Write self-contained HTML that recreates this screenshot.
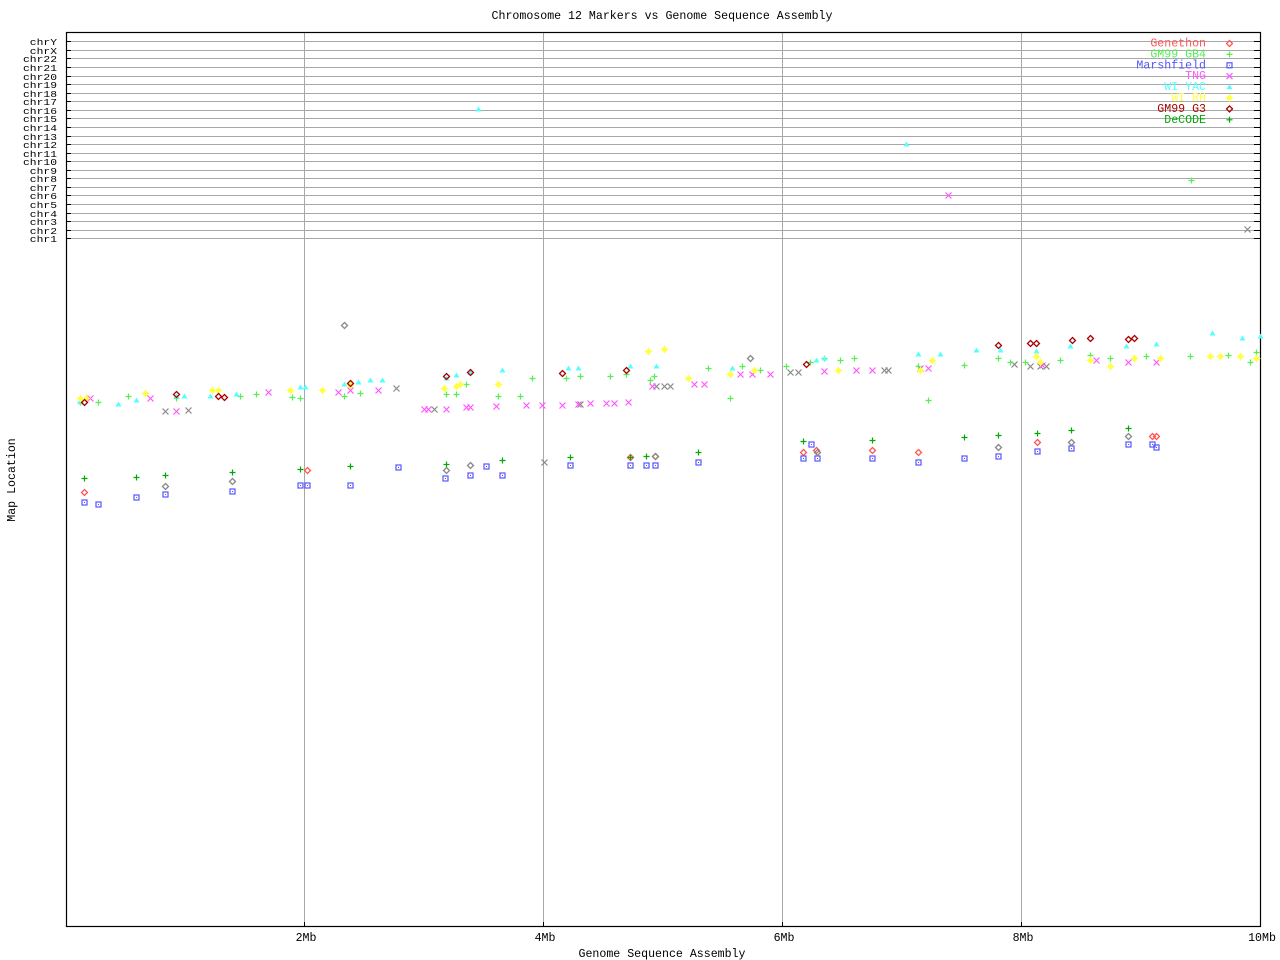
<!DOCTYPE html>
<html><head><meta charset="utf-8"><style>
html,body{margin:0;padding:0;background:#fff;}
svg{display:block;}
text{font-family:"Liberation Mono","DejaVu Sans Mono",monospace;font-size:11.6px;}
text.c{font-size:9.6px;}
</style></head><body>
<svg id="s" width="1280" height="960" xmlns="http://www.w3.org/2000/svg">
<rect width="1280" height="960" fill="#fff"/>
<text x="662" y="19" text-anchor="middle">Chromosome 12 Markers vs Genome Sequence Assembly</text>
<text x="662" y="957" text-anchor="middle">Genome Sequence Assembly</text>
<text x="0" y="0" text-anchor="middle" transform="translate(15,480) rotate(-90)">Map Location</text>
<g id="g"></g>
</svg>
<script>
var NS="http://www.w3.org/2000/svg",g=document.getElementById('g');
function el(t,a,txt){var e=document.createElementNS(NS,t);for(var k in a)e.setAttribute(k,a[k]);if(txt)e.textContent=txt;g.appendChild(e);return e;}
var L=66,R=1260,T=32,B=926;
var chr=["chrY","chrX","chr22","chr21","chr20","chr19","chr18","chr17","chr16","chr15","chr14","chr13","chr12","chr11","chr10","chr9","chr8","chr7","chr6","chr5","chr4","chr3","chr2","chr1"];
for(var i=0;i<24;i++){var y=Math.round(41.3+i*197/23)+0.5;
el('line',{x1:L,y1:y,x2:R,y2:y,stroke:'#a8a8a8'});
el('line',{x1:L,y1:y,x2:L+5,y2:y,stroke:'#000'});
el('line',{x1:R-6,y1:y,x2:R,y2:y,stroke:'#000'});
var w=chr[i].length*6.8;
el('text',{'class':'c',x:57-w,y:y+3.5,textLength:w,lengthAdjust:'spacingAndGlyphs'},chr[i]);}
var xs=[[304,"2Mb"],[543,"4Mb"],[782,"6Mb"],[1021,"8Mb"],[1260,"10Mb"]];
xs.forEach(function(p){if(p[0]<1260)el('line',{x1:p[0]+.5,y1:T,x2:p[0]+.5,y2:B,stroke:'#a8a8a8'});
el('line',{x1:p[0]+.5,y1:B-4,x2:p[0]+.5,y2:B,stroke:'#000'});
el('text',{x:p[0]+2,y:941,'text-anchor':'middle'},p[1]);});
el('rect',{x:L+.5,y:T+.5,width:R-L,height:B-T,fill:'none',stroke:'#000','stroke-width':1.2});
function mk(type,c,x,y){
 if(type=='d')el('path',{d:'M'+x+' '+(y-3)+'L'+(x+3)+' '+y+'L'+x+' '+(y+3)+'L'+(x-3)+' '+y+'Z',fill:'none',stroke:c,'stroke-width':1.3});
 else if(type=='p')el('path',{d:'M'+(x-3)+' '+y+'H'+(x+3)+'M'+x+' '+(y-3)+'V'+(y+3),stroke:c,'stroke-width':1.2});
 else if(type=='s'){el('rect',{x:x-2.5,y:y-2.5,width:5,height:5,fill:'none',stroke:c,'stroke-width':1.2});el('rect',{x:x-.5,y:y-.5,width:1,height:1,fill:c});}
 else if(type=='x')el('path',{d:'M'+(x-3)+' '+(y-3)+'L'+(x+3)+' '+(y+3)+'M'+(x+3)+' '+(y-3)+'L'+(x-3)+' '+(y+3),stroke:c,'stroke-width':1.2});
 else if(type=='t')el('path',{d:'M'+(x-3)+' '+(y+2)+'L'+x+' '+(y-3)+'L'+(x+3)+' '+(y+2)+'Z',fill:c});
 else if(type=='a'){el('circle',{cx:x,cy:y,r:2.6,fill:c});el('path',{d:'M'+(x-4)+' '+y+'H'+(x+4)+'M'+x+' '+(y-4)+'V'+(y+4),stroke:c,'stroke-width':1});}
}
var S={
gen:['d','#ff5555',[[84,492],[307,470],[630,457],[655,456],[816,450],[872,450],[918,452],[1037,442],[1152,436],[1156,436],[803,452]]],
mar:['s','#5555ff',[[84,502],[98,504],[136,497],[165,494],[232,491],[300,485],[307,485],[350,485],[398,467],[445,478],[470,475],[486,466],[502,475],[570,465],[630,465],[646,465],[655,465],[698,462],[803,458],[817,458],[811,444],[872,458],[918,462],[964,458],[998,456],[1037,451],[1071,448],[1128,444],[1152,444],[1156,447]]],
dec:['p','#00aa00',[[84,478],[136,477],[165,475],[232,472],[300,469],[350,466],[446,464],[502,460],[570,457],[630,457],[646,456],[698,452],[803,441],[872,440],[964,437],[998,435],[1037,433],[1071,430],[1128,428]]],
gray:['d','#888',[[165,486],[232,481],[446,470],[470,465],[655,456],[817,452],[998,447],[1071,442],[1128,436],[344,325],[750,358]]],
grayx:['x','#888',[[165,411],[188,410],[396,388],[434,409],[544,462],[580,404],[656,386],[664,386],[670,386],[790,372],[798,372],[884,370],[888,370],[1014,364],[1030,366],[1040,366],[1046,366],[1247,229]]],
tng:['x','#ff55ff',[[90,398],[150,398],[176,411],[268,392],[338,392],[350,390],[378,390],[424,409],[428,409],[446,409],[466,407],[470,407],[496,406],[526,405],[542,405],[562,405],[578,404],[590,403],[606,403],[614,403],[628,402],[652,386],[694,384],[704,384],[740,374],[752,374],[770,374],[824,371],[856,370],[872,370],[920,368],[928,368],[1042,365],[1096,360],[1128,362],[1156,362],[948,195]]],
gb4:['p','#55ee55',[[80,402],[98,402],[128,396],[176,398],[240,396],[256,394],[292,397],[300,398],[344,396],[360,393],[446,394],[456,394],[466,384],[498,396],[520,396],[532,378],[566,378],[580,376],[610,376],[626,374],[650,380],[654,376],[708,368],[730,398],[742,366],[760,370],[786,366],[810,362],[824,358],[840,360],[854,358],[918,366],[928,400],[964,365],[998,358],[1010,362],[1025,362],[1060,360],[1090,355],[1110,358],[1146,356],[1190,356],[1228,355],[1250,362],[1256,352],[1191,180]]],
yac:['t','#55ffff',[[80,402],[118,404],[136,400],[176,396],[184,396],[210,396],[236,394],[300,387],[305,387],[344,384],[358,382],[370,380],[382,380],[446,378],[456,375],[470,372],[502,370],[568,368],[578,368],[630,366],[656,366],[732,368],[816,360],[824,358],[918,354],[940,354],[976,350],[1000,350],[1036,351],[1070,346],[1126,346],[1156,344],[1212,333],[1242,338],[1260,336],[478,109],[906,144]]],
rh:['a','#ffff44',[[80,398],[86,398],[145,393],[212,390],[218,390],[290,390],[322,390],[350,385],[444,388],[456,386],[460,384],[498,384],[648,351],[664,349],[688,378],[730,374],[754,370],[838,370],[920,370],[932,360],[1036,356],[1040,362],[1090,360],[1110,366],[1134,358],[1160,358],[1210,356],[1220,356],[1240,356],[1256,358]]],
g3:['d','#aa0000',[[84,402],[176,394],[218,396],[224,397],[350,383],[446,376],[470,372],[562,373],[626,370],[806,364],[998,345],[1030,343],[1036,343],[1072,340],[1090,338],[1128,339],[1134,338]]]
};
for(var k in S){var s=S[k];s[2].forEach(function(p){mk(s[0],s[1],p[0]+.5,p[1]+.5);});}
var leg=[["Genethon","#ff5555","d"],["GM99 GB4","#55ee55","p"],["Marshfield","#5555ff","s"],["TNG","#ff55ff","x"],["WI YAC","#55ffff","t"],["WI RH","#ffff44","a"],["GM99 G3","#aa0000","d"],["DeCODE","#00aa00","p"]];
leg.forEach(function(l,i){var y=43+i*10.9;el('text',{x:1206,y:y+3.5,'text-anchor':'end',fill:l[1]},l[0]);mk(l[2],l[1],1229.5,y+.5);});
</script>
</body></html>
